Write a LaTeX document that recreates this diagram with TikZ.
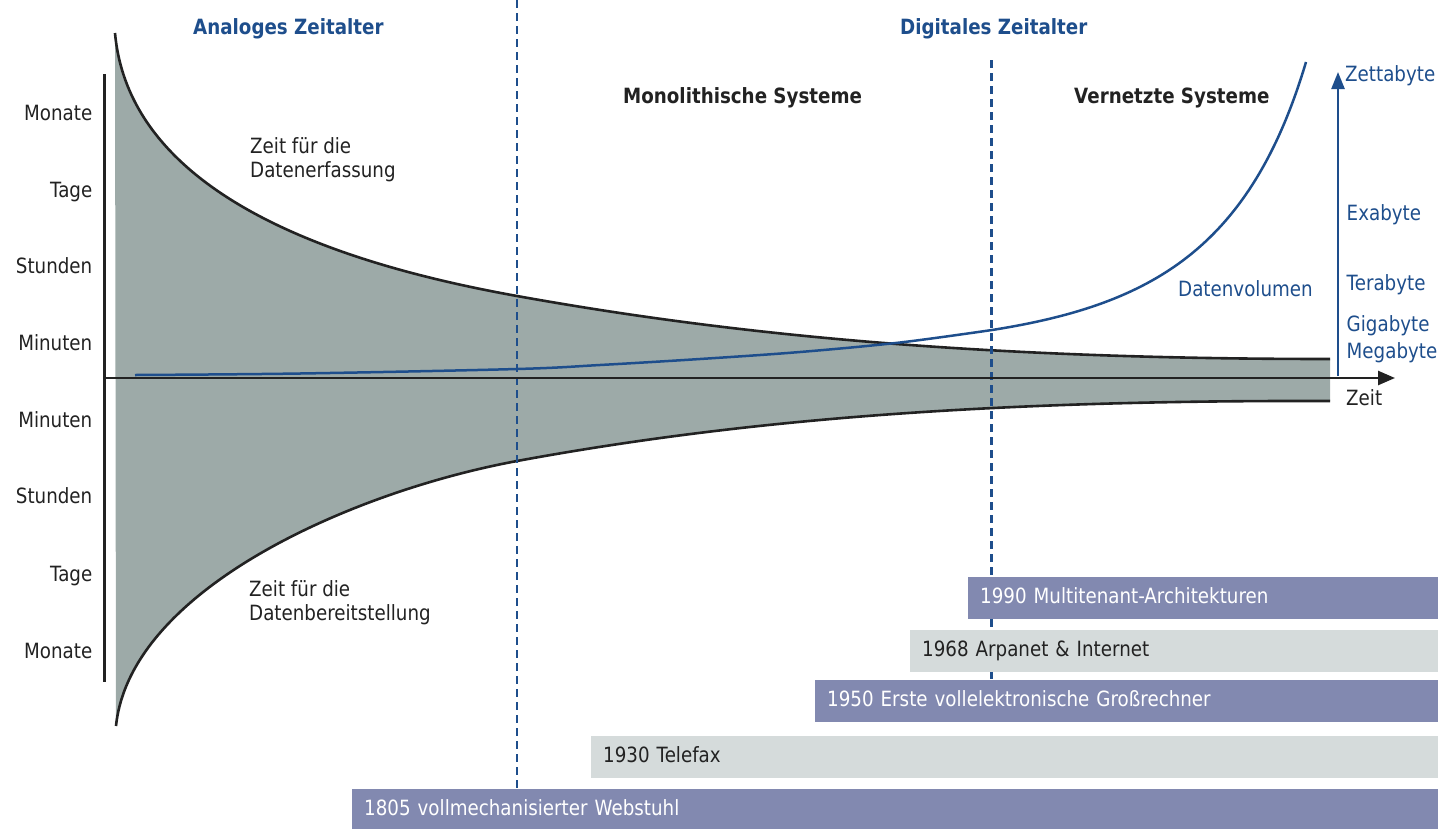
\documentclass[tikz,border=0pt]{standalone}
\usepackage{fontspec}
\setmainfont{DejaVu Sans}[FakeStretch=0.87]
\usetikzlibrary{arrows.meta}
\definecolor{dblue}{RGB}{30,78,140}
\definecolor{fillgray}{RGB}{157,170,168}
\definecolor{boxpurple}{RGB}{130,137,176}
\definecolor{boxgray}{RGB}{213,219,219}
\definecolor{ink}{RGB}{34,34,34}
\tikzset{
  lbl/.style={inner sep=0pt, font=\fontsize{21}{24}\selectfont, text=ink},
  ylbl/.style={lbl, anchor=base east},
  tlbl/.style={lbl, anchor=base west, align=left},
  hdr/.style={inner sep=0pt, anchor=base west, font=\fontsize{21}{24}\selectfont\bfseries},
  bluelbl/.style={lbl, text=dblue, anchor=base west},
  evbox/.style={anchor=north west, inner xsep=12pt, inner ysep=0pt, minimum height=41.7pt,
     text height=15.5pt, text depth=4.5pt, align=left, font=\fontsize{21}{24}\selectfont},
  purplebox/.style={evbox, fill=boxpurple, text=white},
  graybox/.style={evbox, fill=boxgray, text=ink},
  dashline/.style={dblue, line width=2.5pt, dash pattern=on 8pt off 5pt},
  curveline/.style={ink, line width=2.6pt},
}
\begin{document}
\begin{tikzpicture}[x=1pt,y=-1pt]
\useasboundingbox (0,0) rectangle (1440,828);
% shaded region
\fill[fillgray] (115,33) .. controls (130,200) and (350,266) .. (517,296)
  .. controls (750,338) and (1000,359) .. (1330,359) -- (1330,401)
  .. controls (1000,400) and (750,418) .. (517,461)
  .. controls (350,492) and (130,590) .. (116,726) -- cycle;
\draw[curveline] (115,33) .. controls (130,200) and (350,266) .. (517,296)
  .. controls (750,338) and (1000,359) .. (1330,359);
\draw[curveline] (116,726) .. controls (130,590) and (350,492) .. (517,461)
  .. controls (750,418) and (1000,400) .. (1330,401);
% dashed era separators
\coordinate (d1t) at (517,0);
\coordinate (d1b) at (517,789);
\coordinate (d2t) at (991.5,60);
\coordinate (d2b) at (991.5,680);
\draw[dashline] (d1t) -- (d1b);
\draw[dashline] (d2t) -- (d2b);
% data volume curve
\draw[dblue, line width=2.5pt] plot[smooth, tension=0.55] coordinates {(135,375) (300,373.5) (517,369) (600,365) (700,359) (800,352) (900,342.5) (992,330)}
  .. controls (1150,305) and (1250,250) .. (1306,62);
% axes
\coordinate (ax0) at (104,378);
\coordinate (ax1) at (1395,378);
\coordinate (ay0) at (104,74);
\coordinate (ay1) at (104,682);
\draw[ink, line width=3pt] (ay0) -- (ay1);
\draw[ink, line width=2.6pt, -{Triangle[length=17pt,width=14pt]}] (ax0) -- (ax1);
\coordinate (va0) at (1338,376);
\coordinate (va1) at (1338,72);
\draw[dblue, line width=2.5pt, -{Triangle[length=17pt,width=13pt]}] (va0) -- (va1);
% headers
\node[hdr, text=dblue] (analog) at (193,34) {Analoges Zeitalter};
\node[hdr, text=dblue] (digital) at (900,34) {Digitales Zeitalter};
\node[hdr, text=ink] (mono) at (623,103.5) {Monolithische Systeme};
\node[hdr, text=ink] (vern) at (1074,103.5) {Vernetzte Systeme};
% left scale
\node[ylbl] (l1) at (92.5,120) {Monate};
\node[ylbl] (l2) at (92.5,197) {Tage};
\node[ylbl] (l3) at (92.5,273) {Stunden};
\node[ylbl] (l4) at (92.5,350) {Minuten};
\node[ylbl] (l5) at (92.5,427) {Minuten};
\node[ylbl] (l6) at (92.5,503) {Stunden};
\node[ylbl] (l7) at (92.5,581) {Tage};
\node[ylbl] (l8) at (92.5,658) {Monate};
% curve labels
\node[tlbl] (erf1) at (250,153.3) {Zeit für die};
\node[tlbl] (erf2) at (250,177) {Datenerfassung};
\node[tlbl] (ber1) at (249,596.7) {Zeit für die};
\node[tlbl] (ber2) at (249,620.7) {Datenbereitstellung};
% right scale
\node[bluelbl] (zb) at (1345,81) {Zettabyte};
\node[bluelbl] (eb) at (1346.5,220.7) {Exabyte};
\node[bluelbl] (tb) at (1346.5,290.7) {Terabyte};
\node[bluelbl] (gb) at (1346.5,331.7) {Gigabyte};
\node[bluelbl] (mb) at (1346.5,358.3) {Megabyte};
\node[bluelbl] (dv) at (1178,296.7) {Datenvolumen};
\node[tlbl] (zeit) at (1346,405) {Zeit};
% timeline boxes
\node[purplebox, text width=446pt] (b1990) at (968,577) {1990 Multitenant-Architekturen};
\node[graybox, text width=504pt] (b1968) at (910,630) {1968 Arpanet \& Internet};
\node[purplebox, text width=599pt] (b1950) at (815,680) {1950 Erste vollelektronische Großrechner};
\node[graybox, text width=823pt] (b1930) at (591,736) {1930 Telefax};
\node[purplebox, text width=1062pt] (b1805) at (352,789) {1805 vollmechanisierter Webstuhl};
\end{tikzpicture}
\end{document}
